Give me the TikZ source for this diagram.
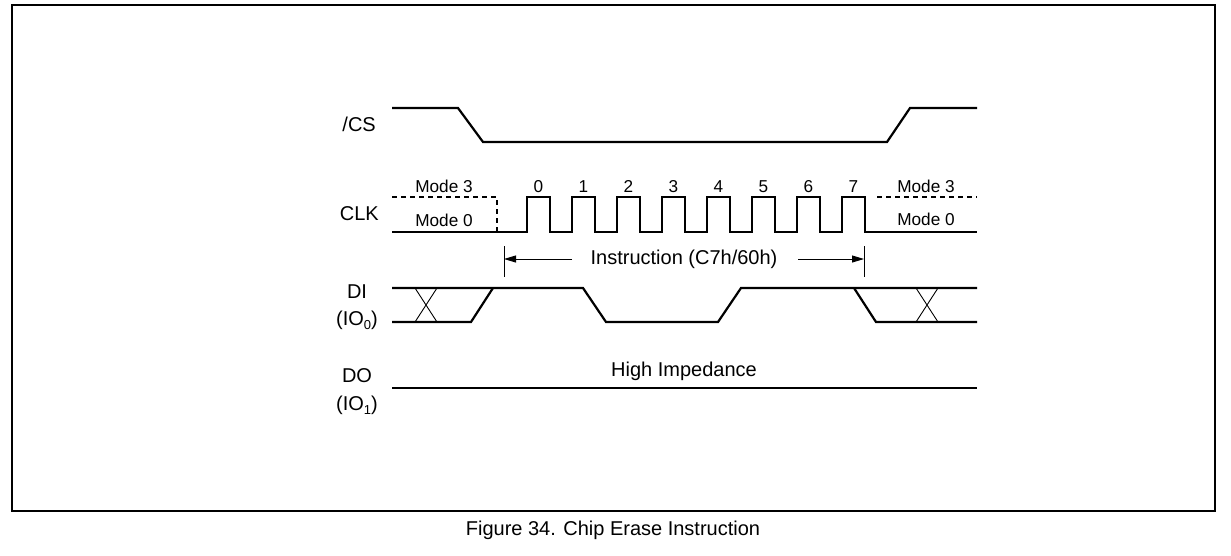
\documentclass[tikz,border=0pt]{standalone}
\usepackage{fontspec}
\setmainfont{Liberation Sans}
\usepackage{tikz}
\usetikzlibrary{arrows.meta}

\begin{document}
\begin{tikzpicture}[x=1pt,y=-1pt,>={Triangle[length=12pt,width=7pt]},
  every node/.style={font=\fontsize{20}{22}\selectfont,inner sep=0pt},
  smalltext/.style={font=\fontsize{17.2}{19}\selectfont,anchor=base},
  sigline/.style={line width=2.2pt,line join=miter},
  modeline/.style={line width=2.2pt,dash pattern=on 5pt off 4pt},
  guideline/.style={line width=.9pt}]
\useasboundingbox (0,0) rectangle (1231,555);
\draw[line width=1.5pt] (12,5) rectangle (1215,511);
\begin{scope}
\node[anchor=east] (cslbl) at (376,124) {/CS};
\node[anchor=east] (clklbl) at (379,214) {CLK};
\node (dilbl) at (357,292) {DI};
\node (dilblio) at (357,320) {(IO\raisebox{-4pt}{\fontsize{13}{14}\selectfont 0})};
\node (dolbl) at (357,376) {DO};
\node (dolblio) at (357,405) {(IO\raisebox{-4pt}{\fontsize{13}{14}\selectfont 1})};
\draw[sigline] (392,108)--(458,108)--(483,142)--(887,142)--(910,108)--(977,108);
\draw[modeline] (392,197)--(497,197)--(497,232);
\draw[sigline] (392,232) foreach \i in {0,...,7} {--({527+45*\i},232)--({527+45*\i},197)--({550+45*\i},197)--({550+45*\i},232)} --(977,232);
\draw[modeline] (877,197)--(977,197);
\foreach \i in {0,...,7}
  \node[smalltext] (clk\i) at ({538.5+45*\i},192) {\i};
\node[smalltext] (mode3l) at (444,192) {Mode 3};
\node[smalltext] (mode0l) at (444,226) {Mode 0};
\node[smalltext] (mode3r) at (926,192) {Mode 3};
\node[smalltext] (mode0r) at (926,225) {Mode 0};
\coordinate (instrtopl) at (504,246);
\coordinate (instrbotl) at (504,277);
\coordinate (instrtopr) at (864,246);
\coordinate (instrbotr) at (864,277);
\draw[guideline] (instrtopl)--(instrbotl);
\draw[guideline] (instrtopr)--(instrbotr);
\node (instr) at (684,259) {Instruction (C7h/60h)};
\draw[guideline,->] (572,259)--(504,259);
\draw[guideline,->] (798,259)--(864,259);
\draw[sigline] (392,288)--(583,288)--(606,322)--(718,322)--(741,288)--(977,288);
\draw[sigline] (392,322)--(471,322)--(493,288);
\draw[sigline] (854,288)--(876,322)--(977,322);
\draw[guideline] (415,288)--(437,322);
\draw[guideline] (415,322)--(437,288);
\draw[guideline] (916,288)--(938,322);
\draw[guideline] (916,322)--(938,288);
\draw[sigline] (392,388)--(977,388);
\node (hiz) at (684,371) {High Impedance};
\end{scope}
\node (caption) at (613,530) {Figure 34. Chip Erase Instruction};
\end{tikzpicture}
\end{document}
